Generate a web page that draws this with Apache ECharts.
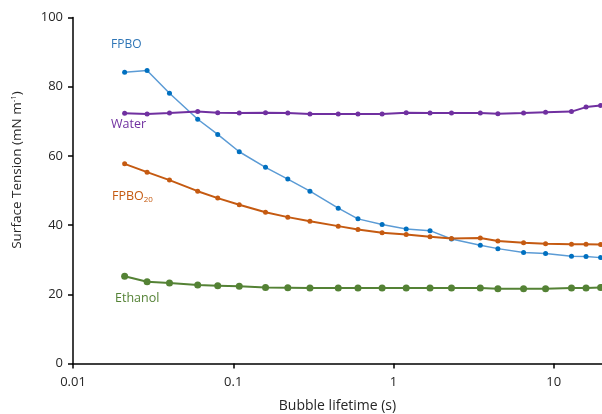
<!DOCTYPE html>
<html><head><meta charset="utf-8">
<script src="https://cdn.jsdelivr.net/npm/echarts@6/dist/echarts.min.js"></script>
<style>html,body{margin:0;padding:0;background:#fff}#c{width:602px;height:414px}</style>
</head><body><div id="c"></div>
<script>
const lifetime = [0.021,0.029,0.040,0.060,0.080,0.109,0.159,0.219,0.301,0.452,0.600,0.849,1.20,1.69,2.30,3.48,4.48,6.48,8.89,12.9,15.9,19.6];
const fpbo     = [84.2,84.7,78.1,70.6,66.2,61.2,56.7,53.3,49.8,44.9,41.8,40.2,38.9,38.4,36.0,34.2,33.2,32.1,31.8,31.0,30.9,30.6];
const water    = [72.3,72.1,72.4,72.8,72.5,72.4,72.5,72.4,72.1,72.1,72.1,72.1,72.5,72.4,72.4,72.4,72.2,72.4,72.6,72.8,74.1,74.6];
const fpbo20   = [57.7,55.3,53.0,49.8,47.8,45.9,43.7,42.3,41.1,39.7,38.7,37.8,37.3,36.6,36.1,36.3,35.4,34.9,34.6,34.5,34.5,34.4];
const ethanol  = [25.2,23.6,23.3,22.7,22.5,22.3,22.0,21.9,21.8,21.8,21.8,21.8,21.8,21.8,21.8,21.8,21.6,21.6,21.6,21.8,21.8,22.0];
const xTicks = [0.01,0.1,1,10];
const xTitle = 'Bubble lifetime (s)';
const yTitle = 'Surface Tension (mN m{sup|-1})';

const pairs = ys => lifetime.map((x,i)=>[x,ys[i]]);
const FONT = '"Open Sans", sans-serif';
const TXT = '#262626';
const chart = echarts.init(document.getElementById('c'), null, {renderer:'canvas'});
function ser(name, data, lineColor, dotColor, size, w){
  return {name, type:'line', data:pairs(data), symbol:'circle', symbolSize:size,
    lineStyle:{color:lineColor,width:w}, itemStyle:{color:dotColor}, clip:true, animation:false};
}
chart.setOption({
  animation:false,
  grid:{left:73,right:0,top:17.5,bottom:50.5,outerBoundsMode:'none',containLabel:false},
  xAxis:{type:'log',logBase:10,min:0.01,max:20,
    name:xTitle,nameLocation:'middle',nameGap:36,
    nameTextStyle:{fontFamily:FONT,fontSize:14,color:TXT},
    axisLine:{lineStyle:{color:'#000',width:1.5}},
    axisTick:{show:true,length:5,lineStyle:{color:'#000',width:1.5},customValues:xTicks},
    axisLabel:{fontFamily:FONT,fontSize:13,color:TXT,margin:12,customValues:xTicks,
      formatter:v=>String(v)},
    minorTick:{show:false},splitLine:{show:false}},
  yAxis:{type:'value',min:0,max:100,interval:20,
    axisLine:{show:true,lineStyle:{color:'#000',width:1.5}},
    axisTick:{show:true,length:5,lineStyle:{color:'#000',width:1.5}},
    axisLabel:{fontFamily:FONT,fontSize:13,color:TXT,margin:10},
    splitLine:{show:false}},
  series:[
    ser('FPBO',fpbo,'#5B9BD5','#0070C0',5,1.5),
    ser('Water',water,'#7030A0','#7030A0',5,2),
    ser('FPBO20',fpbo20,'#C55A11','#C55A11',5,2),
    ser('Ethanol',ethanol,'#548235','#548235',7,2)
  ],
  graphic:[
    {type:'text',x:17,y:170,rotation:Math.PI/2,style:{text:yTitle,fontFamily:FONT,fontSize:13.5,fill:TXT,
      align:'center',verticalAlign:'middle',
      rich:{sup:{fontFamily:FONT,fontSize:8,fill:TXT,padding:[0,0,7,0]}}}},
    {type:'text',left:111,top:39,style:{text:'FPBO',fontFamily:FONT,fontSize:12,fill:'#2E75B6'}},
    {type:'text',left:111,top:118,style:{text:'Water',fontFamily:FONT,fontSize:12.5,fill:'#7030A0'}},
    {type:'text',left:112,top:190,style:{text:'FPBO{s|20}',fontFamily:FONT,fontSize:12.5,fill:'#C55A11',
      rich:{s:{fontFamily:FONT,fontSize:8,fill:'#C55A11',padding:[7,0,0,0]}}}},
    {type:'text',left:115,top:292,style:{text:'Ethanol',fontFamily:FONT,fontSize:12.5,fill:'#548235'}}
  ]
});
</script></body></html>
